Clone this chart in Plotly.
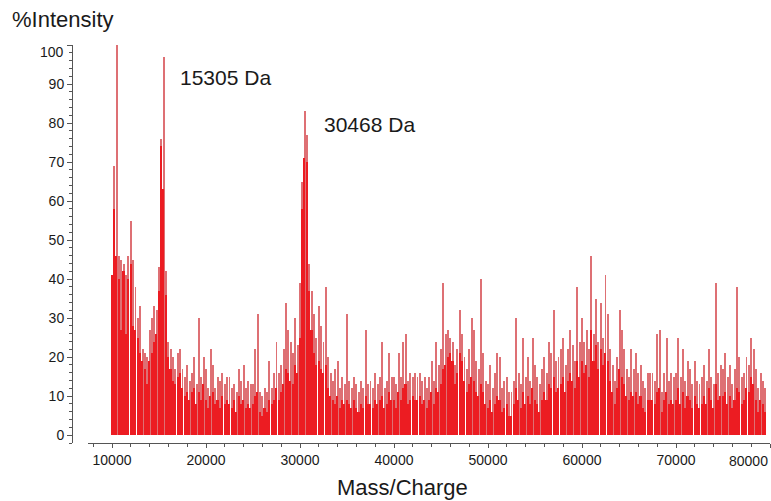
import plotly.graph_objects as go

# m/z bins (Da)
MZ_START = 10000
MZ_STEP = 250

# spike tops (%Intensity), one per m/z bin
peak = [
    41, 69, 100.5, 46, 45, 44, 41, 46, 55, 45,
    38, 30, 33, 22, 21, 20, 27, 30, 33, 32,
    43, 76, 97, 42, 24, 22, 20, 17, 21, 22,
    17, 15, 18, 14, 16, 20, 13, 30, 15, 20,
    17, 12, 22, 18, 12, 15, 14, 16, 13, 15,
    15, 12, 13, 11, 17, 14, 18, 12, 14, 13,
    13, 22, 31, 11, 10, 12, 11, 19, 12, 16,
    24, 16, 18, 22, 34, 27, 24, 21, 30, 23,
    39, 65, 83, 77, 44, 37, 31, 25, 33, 28,
    24, 38, 20, 16, 14, 17, 19, 12, 15, 13,
    31, 14, 12, 15, 13, 11, 14, 12, 27, 13,
    14, 12, 16, 13, 15, 24, 12, 14, 21, 15,
    15, 13, 21, 15, 24, 26, 14, 16, 15, 16,
    15, 16, 14, 15, 12, 15, 19, 14, 24, 18,
    22, 39, 26, 27, 25, 24, 18, 22, 32, 26,
    20, 17, 22, 30, 27, 19, 17, 40, 21, 14,
    13, 18, 12, 16, 21, 20, 12, 14, 15, 11,
    11, 14, 30, 16, 13, 25, 15, 20, 14, 25,
    18, 15, 13, 17, 20, 16, 24, 21, 32, 19,
    20, 22, 25, 18, 22, 27, 23, 19, 38, 24,
    30, 24, 27, 22, 46, 26, 35, 24, 34, 25,
    41, 31, 22, 18, 14, 20, 32, 27, 22, 17,
    15, 22, 17, 21, 16, 18, 14, 12, 16, 16,
    16, 14, 26, 27, 11, 16, 25, 14, 16, 15,
    16, 25, 15, 22, 14, 19, 17, 13, 19, 14,
    13, 15, 18, 14, 22, 15, 13, 39, 16, 18,
    17, 21, 15, 18, 13, 17, 38, 20, 15, 16,
    20, 18, 25, 22, 17, 12, 16, 14, 12,
]

# solid (bright red) part of each bin
body = [
    41, 58, 46, 40, 27, 42, 26, 40, 44, 28,
    27, 25, 21, 19, 17, 13, 19, 21, 24, 26,
    37, 74, 63, 36, 20, 17, 14, 13, 15, 16,
    12, 10, 11, 9, 11, 12, 8, 11, 9, 13,
    9, 7, 10, 11, 8, 9, 7, 10, 8, 9,
    8, 7, 9, 6, 10, 8, 9, 7, 8, 7,
    8, 10, 11, 6, 5, 7, 6, 9, 8, 9,
    12, 9, 11, 13, 17, 16, 14, 13, 18, 16,
    25, 58, 71, 70, 37, 27, 21, 18, 19, 17,
    16, 18, 12, 10, 9, 8, 10, 7, 9, 8,
    9, 8, 7, 9, 7, 6, 8, 7, 10, 8,
    8, 7, 9, 8, 9, 10, 7, 8, 11, 9,
    9, 7, 11, 9, 12, 13, 8, 9, 10, 9,
    9, 10, 8, 9, 7, 9, 11, 8, 12, 11,
    13, 17, 18, 20, 21, 19, 13, 16, 21, 19,
    14, 11, 13, 15, 14, 11, 10, 13, 11, 8,
    7, 9, 6, 8, 10, 9, 6, 7, 8, 5,
    5, 8, 12, 9, 7, 11, 8, 10, 8, 12,
    9, 8, 6, 9, 11, 9, 13, 12, 15, 11,
    12, 13, 15, 11, 14, 16, 14, 12, 19, 15,
    19, 16, 18, 15, 27, 19, 23, 17, 22, 18,
    21, 19, 14, 11, 8, 12, 17, 15, 13, 10,
    9, 11, 10, 11, 8, 10, 7, 6, 9, 9,
    9, 8, 11, 12, 6, 9, 11, 8, 9, 8,
    9, 12, 8, 11, 7, 10, 9, 7, 10, 8,
    7, 8, 10, 8, 12, 9, 7, 13, 9, 10,
    10, 11, 8, 10, 7, 9, 12, 11, 8, 9,
    12, 11, 15, 13, 9, 6, 9, 8, 6,
]

x_ticks = [10000, 20000, 30000, 40000, 50000, 60000, 70000, 80000]
x_tick_text = ["10000", "20000", "30000", "40000", "50000", "60000", "70000", ""]
y_ticks = [0, 10, 20, 30, 40, 50, 60, 70, 80, 90, 100]
y_tick_text = ["0", "10", "20", "30", "40", "50", "60", "70", "80", "90", ""]

peak_labels = ["15305 Da", "30468 Da"]

mz = [MZ_START + MZ_STEP * i for i in range(len(peak))]

FONT = "Liberation Sans, Arial, sans-serif"
W, H = 771, 501
ML, MR, MT, MB = 72, 1, 45, 58
PW, PH = W - ML - MR, H - MT - MB


def px(xp):
    return (xp - ML) / PW


def py(yp):
    return (H - MB - yp) / PH


fig = go.Figure()
fig.add_trace(go.Bar(x=mz, y=peak, width=105,
                     marker=dict(color="rgb(222,112,116)", line=dict(width=0)),
                     showlegend=False, hoverinfo="skip"))
fig.add_trace(go.Bar(x=mz, y=body, width=165,
                     marker=dict(color="rgb(236,28,34)", line=dict(width=0)),
                     showlegend=False, hoverinfo="skip"))

axis_col = "#555555"
fig.update_layout(
    width=W, height=H,
    margin=dict(l=ML, r=MR, t=MT, b=MB, pad=0),
    paper_bgcolor="white", plot_bgcolor="white",
    barmode="overlay", bargap=0,
    font=dict(family=FONT, color="#1a1a1a", size=14),
    xaxis=dict(
        domain=[px(88), 1], range=[7447, 80000],
        tickvals=x_ticks, ticktext=x_tick_text,
        showgrid=False, zeroline=False,
        showline=True, linecolor=axis_col, linewidth=1,
        ticks="outside", ticklen=4, tickcolor=axis_col,
        minor=dict(dtick=2000, tick0=0, ticks="outside", ticklen=3,
                   tickcolor=axis_col, showgrid=False),
        tickfont=dict(size=14, family=FONT, color="#1a1a1a"),
    ),
    yaxis=dict(
        anchor="free", position=0, range=[-2, 100],
        tickvals=y_ticks, ticktext=y_tick_text,
        showgrid=False, zeroline=False,
        showline=True, linecolor=axis_col, linewidth=1,
        ticks="outside", ticklen=5, tickcolor=axis_col,
        minor=dict(dtick=2, tick0=0, ticks="outside", ticklen=3,
                   tickcolor=axis_col, showgrid=False),
        tickfont=dict(size=14, family=FONT, color="#1a1a1a"),
    ),
)

ann = [
    dict(text="%Intensity", x=px(10), y=py(19), xanchor="left", yanchor="middle",
         font=dict(size=22)),
    dict(text="Mass/Charge", x=px(402), y=py(487), xanchor="center", yanchor="middle",
         font=dict(size=22)),
    dict(text=peak_labels[0], x=px(225), y=py(78), xanchor="center", yanchor="middle",
         font=dict(size=21)),
    dict(text=peak_labels[1], x=px(369), y=py(124), xanchor="center", yanchor="middle",
         font=dict(size=21)),
    dict(text="100", x=px(66), y=py(52), xanchor="right", yanchor="middle",
         font=dict(size=14)),
    dict(text="80000", x=px(770), y=py(461), xanchor="right", yanchor="middle",
         font=dict(size=14)),
]
for a in ann:
    a.update(xref="paper", yref="paper", showarrow=False)
    a["font"].update(family=FONT, color="#1a1a1a")
fig.update_layout(annotations=ann)

fig.write_html(
    "out.html",
    config={"displayModeBar": False},
    post_script="document.body.style.margin='0';document.body.style.overflow='hidden';",
)
